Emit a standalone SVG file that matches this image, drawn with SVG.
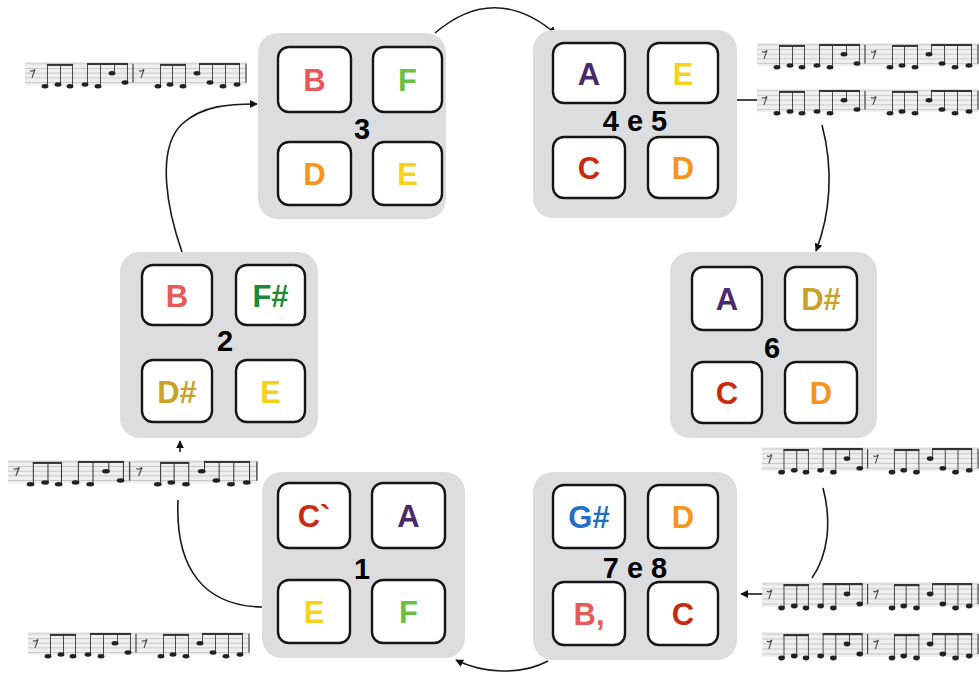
<svg xmlns="http://www.w3.org/2000/svg" xmlns:xlink="http://www.w3.org/1999/xlink" width="979" height="673" viewBox="0 0 979 673">
<style>
.grp{fill:#dcdddf}
.key{fill:#fff;stroke:#151515;stroke-width:2.4}
.lt{font-family:"Liberation Sans",Arial,sans-serif;font-weight:bold;font-size:31px;text-anchor:middle}
.num{font-family:"Liberation Sans",Arial,sans-serif;font-weight:bold;font-size:29px;text-anchor:middle;fill:#000}
.con{fill:none;stroke:#1a1a1a;stroke-width:1.6}
.sl{stroke:#b8b8b8;stroke-width:0.7}
.nh{fill:#222}
.st{stroke:#333;stroke-width:0.9}
.bm{fill:#333}
</style>
<defs>
<marker id="ah" viewBox="0 0 10 10" refX="9" refY="5" markerWidth="8" markerHeight="8" markerUnits="userSpaceOnUse" orient="auto">
<path d="M0,0 L10,5 L0,10 z" fill="#111"/>
</marker>
<symbol id="staff" viewBox="0 0 222 30" preserveAspectRatio="none">
<rect x="0" y="0" width="222" height="25" fill="#efefef"/>
<g class="sl">
<line x1="0" y1="2" x2="222" y2="2"/><line x1="0" y1="7" x2="222" y2="7"/><line x1="0" y1="12" x2="222" y2="12"/><line x1="0" y1="17" x2="222" y2="17"/><line x1="0" y1="22" x2="222" y2="22"/>
</g>
<path d="M5,9 q2,2 5,-1 l-3,9" fill="none" stroke="#444" stroke-width="1.1"/>
<path d="M114,9 q2,2 5,-1 l-3,9" fill="none" stroke="#444" stroke-width="1.1"/>
<line x1="108" y1="2" x2="108" y2="22" stroke="#444" stroke-width="1.2"/>
<line x1="221" y1="2" x2="221" y2="22" stroke="#444" stroke-width="1.2"/>
<g class="st">
<line x1="22.5" y1="3" x2="22.5" y2="26"/><line x1="35.5" y1="3" x2="35.5" y2="24"/><line x1="47.5" y1="3" x2="47.5" y2="26"/>
<line x1="62.5" y1="2" x2="62.5" y2="24"/><line x1="75.5" y1="2" x2="75.5" y2="26"/><line x1="89.5" y1="2" x2="89.5" y2="12"/><line x1="102.5" y1="2" x2="102.5" y2="22"/>
<line x1="135.5" y1="3" x2="135.5" y2="26"/><line x1="147.5" y1="3" x2="147.5" y2="24"/><line x1="160.5" y1="3" x2="160.5" y2="26"/>
<line x1="174.5" y1="2" x2="174.5" y2="12"/><line x1="187.5" y1="2" x2="187.5" y2="22"/><line x1="200.5" y1="2" x2="200.5" y2="26"/><line x1="214.5" y1="2" x2="214.5" y2="24"/>
</g>
<g class="bm">
<rect x="22" y="2" width="26" height="2.2"/><rect x="62" y="1" width="41" height="2.2"/>
<rect x="135" y="2" width="26" height="2.2"/><rect x="174" y="1" width="41" height="2.2"/>
</g>
<g class="nh">
<ellipse cx="20" cy="26" rx="3.4" ry="2.4"/><ellipse cx="33" cy="24" rx="3.4" ry="2.4"/><ellipse cx="45" cy="26" rx="3.4" ry="2.4"/>
<ellipse cx="60" cy="24" rx="3.4" ry="2.4"/><ellipse cx="73" cy="26" rx="3.4" ry="2.4"/><ellipse cx="87" cy="12" rx="3.4" ry="2.4"/><ellipse cx="100" cy="22" rx="3.4" ry="2.4"/>
<ellipse cx="133" cy="26" rx="3.4" ry="2.4"/><ellipse cx="145" cy="24" rx="3.4" ry="2.4"/><ellipse cx="158" cy="26" rx="3.4" ry="2.4"/>
<ellipse cx="172" cy="12" rx="3.4" ry="2.4"/><ellipse cx="185" cy="22" rx="3.4" ry="2.4"/><ellipse cx="198" cy="26" rx="3.4" ry="2.4"/><ellipse cx="212" cy="24" rx="3.4" ry="2.4"/>
</g>
</symbol>
</defs>
<rect width="979" height="673" fill="#fff"/>

<g id="staves">
<use xlink:href="#staff" href="#staff" x="25" y="62" width="222" height="28"/>
<use xlink:href="#staff" href="#staff" x="757" y="43" width="222" height="28"/>
<use xlink:href="#staff" href="#staff" x="757" y="89" width="222" height="28"/>
<use xlink:href="#staff" href="#staff" x="762" y="447" width="217" height="29"/>
<use xlink:href="#staff" href="#staff" x="762" y="582" width="217" height="30"/>
<use xlink:href="#staff" href="#staff" x="762" y="632" width="217" height="30"/>
<use xlink:href="#staff" href="#staff" x="8" y="460" width="250" height="28"/>
<use xlink:href="#staff" href="#staff" x="28" y="632" width="222" height="28"/>
</g>

<g id="connectors">
<path class="con" d="M435,33 Q495,-18 556,34" marker-end="url(#ah)"/>
<path class="con" d="M737,100 L757,100"/>
<path class="con" d="M822,125 C834,170 830,215 816,251" marker-end="url(#ah)"/>
<path class="con" d="M823,488 C832,522 828,555 812,578"/>
<path class="con" d="M762,594 L741,594" marker-end="url(#ah)"/>
<path class="con" d="M548,661 C520,676 482,673 456,660" marker-end="url(#ah)"/>
<path class="con" d="M262,607 C205,606 175,570 178,500"/>
<path class="con" d="M180,452 L180,441" marker-end="url(#ah)"/>
<path class="con" d="M182,252 C168,212 155,150 182,124 C203,105 230,104 257,104" marker-end="url(#ah)"/>
</g>

<g id="node3">
<rect class="grp" x="258" y="33" width="188" height="186" rx="20"/>
<rect class="key" x="278" y="47" width="73" height="65" rx="11"/>
<rect class="key" x="373" y="47" width="69" height="65" rx="11"/>
<rect class="key" x="278" y="142" width="73" height="63" rx="11"/>
<rect class="key" x="373" y="142" width="69" height="63" rx="11"/>
<text class="lt" x="314.5" y="91" fill="#e8595a">B</text>
<text class="lt" x="407.5" y="91" fill="#6cbf45">F</text>
<text class="lt" x="314.5" y="185" fill="#f7941d">D</text>
<text class="lt" x="407.5" y="185" fill="#f6d21c">E</text>
<text class="num" x="362" y="139">3</text>
</g>

<g id="node45">
<rect class="grp" x="533" y="30" width="204" height="188" rx="20"/>
<rect class="key" x="553" y="43" width="72" height="60" rx="11"/>
<rect class="key" x="648" y="43" width="70" height="60" rx="11"/>
<rect class="key" x="553" y="137" width="72" height="61" rx="11"/>
<rect class="key" x="648" y="137" width="70" height="61" rx="11"/>
<text class="lt" x="589" y="85" fill="#4a2a6c">A</text>
<text class="lt" x="683" y="85" fill="#f6d21c">E</text>
<text class="lt" x="589" y="179" fill="#c9290f">C</text>
<text class="lt" x="683" y="179" fill="#f7941d">D</text>
<text class="num" x="635" y="131">4 e 5</text>
</g>

<g id="node2">
<rect class="grp" x="120" y="252" width="198" height="186" rx="20"/>
<rect class="key" x="142" y="265" width="70" height="60" rx="11"/>
<rect class="key" x="236" y="265" width="69" height="60" rx="11"/>
<rect class="key" x="142" y="360" width="70" height="62" rx="11"/>
<rect class="key" x="236" y="360" width="69" height="62" rx="11"/>
<text class="lt" x="177" y="307" fill="#e8595a">B</text>
<text class="lt" x="270.5" y="307" fill="#1c8a38">F#</text>
<text class="lt" x="177" y="403" fill="#c9a227">D#</text>
<text class="lt" x="270.5" y="403" fill="#f6d21c">E</text>
<text class="num" x="225" y="351">2</text>
</g>

<g id="node6">
<rect class="grp" x="670" y="252" width="207" height="186" rx="20"/>
<rect class="key" x="692" y="267" width="70" height="63" rx="11"/>
<rect class="key" x="785" y="267" width="72" height="63" rx="11"/>
<rect class="key" x="692" y="362" width="70" height="61" rx="11"/>
<rect class="key" x="785" y="362" width="72" height="61" rx="11"/>
<text class="lt" x="727" y="310" fill="#4a2a6c">A</text>
<text class="lt" x="821" y="310" fill="#c9a227">D#</text>
<text class="lt" x="727" y="404" fill="#c9290f">C</text>
<text class="lt" x="821" y="404" fill="#f7941d">D</text>
<text class="num" x="772" y="358">6</text>
</g>

<g id="node78">
<rect class="grp" x="533" y="472" width="204" height="188" rx="20"/>
<rect class="key" x="553" y="485" width="72" height="63" rx="11"/>
<rect class="key" x="648" y="485" width="70" height="63" rx="11"/>
<rect class="key" x="553" y="582" width="72" height="63" rx="11"/>
<rect class="key" x="648" y="582" width="70" height="63" rx="11"/>
<text class="lt" x="589" y="528" fill="#1f6fc4">G#</text>
<text class="lt" x="683" y="528" fill="#f7941d">D</text>
<text class="lt" x="589" y="625" fill="#e8595a">B,</text>
<text class="lt" x="683" y="625" fill="#c9290f">C</text>
<text class="num" x="635" y="578">7 e 8</text>
</g>

<g id="node1">
<rect class="grp" x="262" y="472" width="203" height="186" rx="20"/>
<rect class="key" x="278" y="483" width="72" height="65" rx="11"/>
<rect class="key" x="372" y="483" width="73" height="65" rx="11"/>
<rect class="key" x="278" y="580" width="72" height="63" rx="11"/>
<rect class="key" x="372" y="580" width="73" height="63" rx="11"/>
<text class="lt" x="314" y="527" fill="#c9290f">C`</text>
<text class="lt" x="408.5" y="527" fill="#4a2a6c">A</text>
<text class="lt" x="314" y="623" fill="#f6d21c">E</text>
<text class="lt" x="408.5" y="623" fill="#6cbf45">F</text>
<text class="num" x="362" y="579">1</text>
</g>
</svg>
